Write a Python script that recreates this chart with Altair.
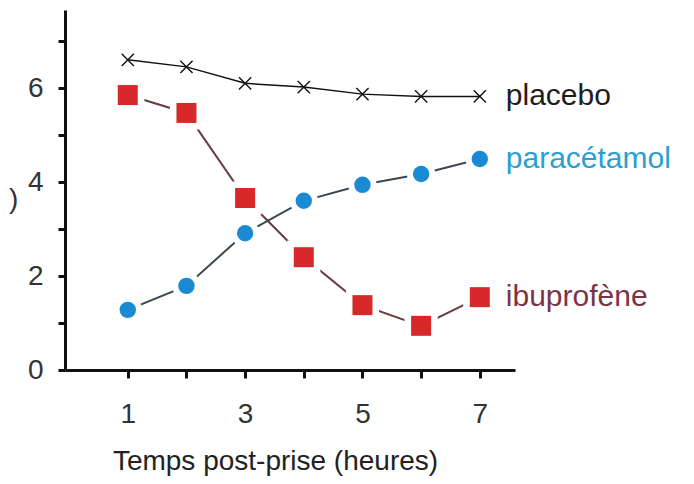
import altair as alt
import pandas as pd

hours = [1, 2, 3, 4, 5, 6, 7]
placebo = [6.60, 6.45, 6.10, 6.02, 5.87, 5.82, 5.82]
paracetamol = [1.28, 1.79, 2.91, 3.60, 3.94, 4.17, 4.49]
ibuprofene = [5.85, 5.47, 3.66, 2.40, 1.38, 0.94, 1.55]
series_names = ["placebo", "paracétamol", "ibuprofène"]
label_colors = ["#1e1e1e", "#2a9fd0", "#7a3446"]
x_ticks = [1, 2, 3, 4, 5, 6, 7]
y_ticks = [0, 1, 2, 3, 4, 5, 6, 7]
x_title = "Temps post-prise (heures)"
clipped_title = [")"]

rows = []
for name, vals in zip(series_names, [placebo, paracetamol, ibuprofene]):
    for h, v in zip(hours, vals):
        rows.append({"serie": name, "heure": h, "valeur": v})
df = pd.DataFrame(rows)

FONT = "Liberation Sans"

x_enc = alt.X(
    "heure:Q",
    scale=alt.Scale(domain=[-0.07, 7.6], nice=False, zero=False),
    axis=alt.Axis(
        values=x_ticks,
        labelExpr="datum.value % 2 == 1 ? datum.label : ''",
        title=x_title,
        titleX=210,
        titleAlign="center",
        titlePadding=19,
        labelPadding=22,
        tickSize=8,
    ),
)
y_enc = alt.Y(
    "valeur:Q",
    scale=alt.Scale(domain=[0, 7.66], nice=False),
    axis=alt.Axis(
        values=y_ticks,
        labelExpr="datum.value % 2 == 0 ? datum.label : ''",
        title=None,
        labelPadding=15,
        tickSize=7,
    ),
)

base = alt.Chart(df).encode(x=x_enc, y=y_enc)

def only(name):
    return alt.datum.serie == name

line_plac = base.transform_filter(only("placebo")).mark_line(color="#111111", strokeWidth=1.5)
line_ibu = base.transform_filter(only("ibuprofène")).mark_line(color="#6b3a42", strokeWidth=2)
line_para = base.transform_filter(only("paracétamol")).mark_line(color="#3b4752", strokeWidth=2)

halo_para = base.transform_filter(only("paracétamol")).mark_point(
    shape="circle", filled=True, color="white", opacity=1, size=800)
halo_ibu = base.transform_filter(only("ibuprofène")).mark_point(
    shape="square", filled=True, color="white", opacity=1, size=1100)

pts_para = base.transform_filter(only("paracétamol")).mark_point(
    shape="circle", filled=True, color="#1a8ad4", opacity=1, size=270)
pts_ibu = base.transform_filter(only("ibuprofène")).mark_point(
    shape="square", filled=True, color="#d8282a", opacity=1, size=400)
pts_plac = base.transform_filter(only("placebo")).mark_point(
    shape="M-1,-1L1,1M-1,1L1,-1", filled=False, color="#111111",
    strokeWidth=1.4, opacity=1, size=150)

labels = base.transform_filter(alt.datum.heure == hours[-1]).mark_text(
    align="left", baseline="middle", dx=26, fontSize=30, font=FONT
).encode(
    text="serie:N",
    color=alt.Color("serie:N", scale=alt.Scale(domain=series_names, range=label_colors), legend=None),
)

clipped = alt.Chart(pd.DataFrame({"t": clipped_title})).mark_text(
    align="left", baseline="middle", fontSize=28, font=FONT, color="#333333"
).encode(text="t:N", x=alt.value(-56), y=alt.value(190))

chart = alt.layer(
    line_ibu, line_para, line_plac, halo_para, halo_ibu, pts_para, pts_ibu, pts_plac, labels, clipped
).properties(
    width=450,
    height=360,
    autosize=alt.AutoSizeParams(type="none"),
    padding={"left": 57, "top": 2, "right": 170, "bottom": 112},
).configure_view(stroke=None).configure_axis(
    grid=False,
    domainColor="#111111",
    domainWidth=3,
    tickColor="#111111",
    tickWidth=3,
    labelFont=FONT,
    labelFontSize=28,
    labelColor="#333333",
    titleFont=FONT,
    titleFontSize=28,
    titleFontWeight="normal",
    titleColor="#222222",
)

chart.save("out.html", embed_options={"renderer": "svg", "actions": False})
